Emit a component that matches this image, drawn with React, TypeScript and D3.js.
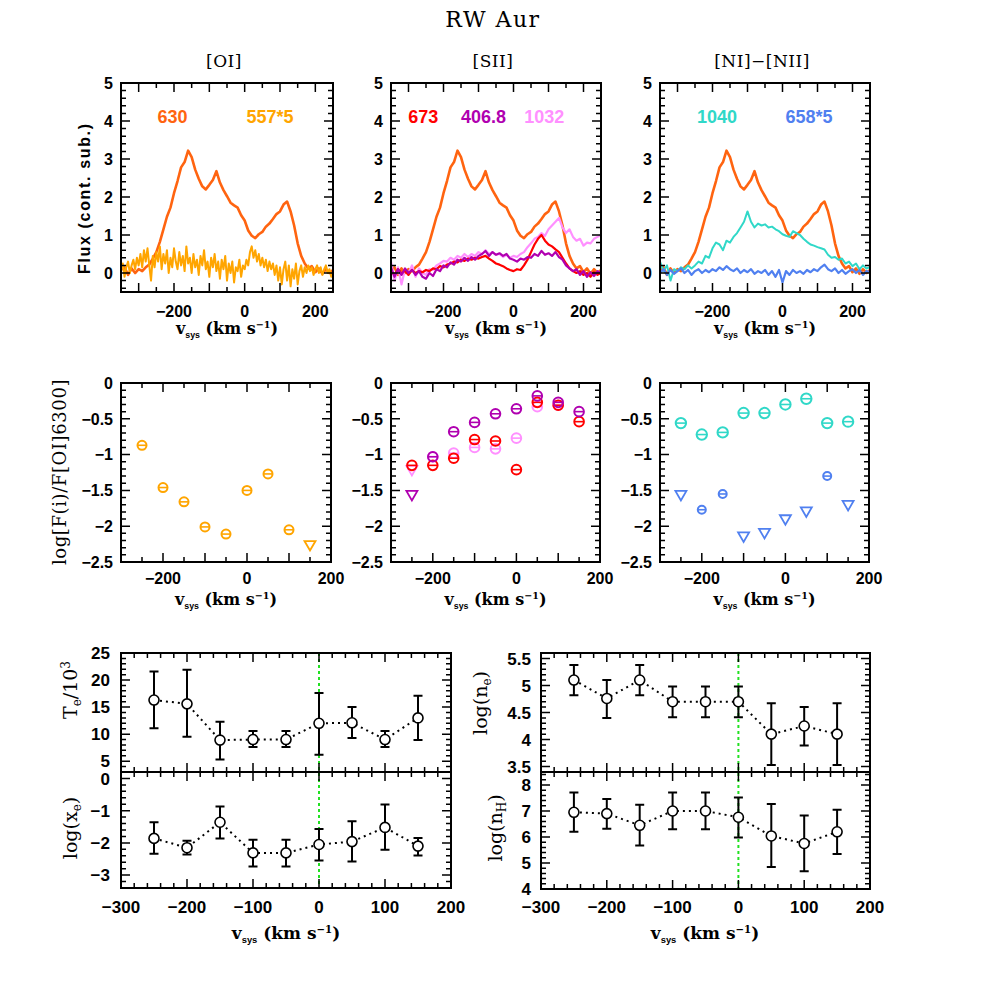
import * as d3 from 'd3'
import type { ReactElement } from 'react'

// ---- line profiles (continuum subtracted), -350..250 km/s
const specVel = d3.range(-350, 251, 10)
const specVelFine = d3.range(-350, 251, 5)

const flux630 = [
  0.08, 0.15, -0.05, 0.12, 0.0, 0.1, 0.05, 0.15, 0.22, 0.38,
  0.55, 0.82, 1.15, 1.48, 1.72, 2.1, 2.42, 2.78, 2.92, 3.22,
  3.05, 2.72, 2.48, 2.28, 2.2, 2.32, 2.45, 2.68, 2.38, 2.18,
  2.02, 1.85, 1.78, 1.72, 1.52, 1.38, 1.12, 0.98, 0.92, 1.02,
  1.08, 1.22, 1.3, 1.42, 1.55, 1.62, 1.8, 1.88, 1.62, 1.25,
  0.78, 0.45, 0.25, 0.12, 0.18, 0.02, 0.12, -0.02, 0.1, 0.0,
  0.08,
]

const flux557x5 = [
  0.1, 0.25, -0.1, 0.15, 0.3, 0.0, 0.2, 0.35, 0.1, 0.4,
  0.2, 0.5, 0.15, 0.6, 0.3, 0.65, 0.2, -0.2, 0.45, 0.15,
  0.55, 0.3, 0.7, 0.1, 0.5, 0.25, 0.6, 0.0, 0.4, 0.15,
  0.65, 0.3, 0.1, 0.55, 0.2, 0.45, 0.05, 0.7, 0.25, 0.4,
  0.0, 0.5, 0.15, 0.35, -0.05, 0.45, 0.2, 0.6, 0.1, 0.3,
  -0.1, 0.4, 0.15, 0.5, 0.05, 0.3, -0.15, 0.35, 0.1, 0.45,
  -0.2, 0.25, 0.0, 0.3, -0.25, 0.15, 0.05, 0.35, -0.1, 0.2,
  0.1, 0.35, 0.2, 0.55, 0.7, 0.4, 0.6, 0.3, 0.5, 0.2,
  0.4, 0.15, 0.35, 0.05, 0.3, 0.1, 0.25, -0.05, 0.2, -0.2,
  0.15, -0.3, 0.1, 0.3, -0.2, 0.2, -0.35, 0.1, -0.15, 0.25,
  -0.3, 0.05, 0.2, -0.1, 0.15, 0.0, 0.2, 0.05, 0.15, -0.05,
  0.1, 0.2, 0.0, 0.15, -0.05, 0.1, 0.2, 0.0, 0.1, -0.1,
  0.05,
]

const flux673 = [
  0.05, -0.05, 0.1, 0.0, 0.05, -0.05, 0.08, 0.0, 0.05, 0.02,
  0.08, 0.05, 0.12, 0.1, 0.18, 0.15, 0.22, 0.25, 0.3, 0.28,
  0.35, 0.32, 0.38, 0.35, 0.4, 0.38, 0.42, 0.45, 0.38, 0.32,
  0.25, 0.22, 0.18, 0.12, 0.08, 0.05, 0.1, 0.08, 0.2, 0.35,
  0.55, 0.75, 0.9, 1.0, 0.85, 0.75, 0.7, 0.62, 0.55, 0.4,
  0.25, 0.12, 0.05, 0.0, 0.05, -0.05, 0.0, -0.1, 0.02, -0.05,
  0.0,
]

const flux4068 = [
  0.15, -0.1, 0.1, -0.05, 0.12, 0.0, 0.08, -0.05, 0.05, -0.1,
  -0.15, 0.0, -0.08, 0.1, 0.05, 0.2, 0.15, 0.28, 0.22, 0.35,
  0.3, 0.4, 0.32, 0.42, 0.35, 0.45, 0.5, 0.58, 0.45, 0.55,
  0.48, 0.52, 0.45, 0.5, 0.38, 0.35, 0.3, 0.38, 0.35, 0.42,
  0.4, 0.5, 0.45, 0.58, 0.48, 0.52, 0.45, 0.55, 0.42, 0.35,
  0.2, 0.12, 0.05, 0.1, -0.05, 0.05, -0.1, 0.02, -0.08, 0.05,
  0.0,
]

const flux1032 = [
  0.3, -0.2, 0.15, -0.3, 0.1, 0.0, 0.2, -0.1, 0.12, 0.0,
  -0.05, 0.1, 0.08, 0.2, 0.25, 0.32, 0.3, 0.4, 0.35, 0.45,
  0.4, 0.5, 0.42, 0.5, 0.45, 0.55, 0.5, 0.6, 0.5, 0.55,
  0.48, 0.5, 0.42, 0.48, 0.4, 0.45, 0.42, 0.5, 0.55, 0.68,
  0.78, 0.9, 0.95, 1.05, 0.98, 1.15, 1.25, 1.35, 1.45, 1.2,
  1.05, 1.15, 0.95, 0.85, 0.9, 0.72, 0.8, 0.78, 0.9, 0.95,
  1.0,
]

const flux1040 = [
  0.3, 0.05, 0.2, -0.2, 0.1, 0.05, 0.15, 0.1, 0.2, 0.12,
  0.2, 0.3, 0.25, 0.45, 0.4, 0.65, 0.8, 0.75, 0.6, 0.85,
  0.8, 0.95, 1.05, 1.2, 1.35, 1.62, 1.35, 1.2, 1.3, 1.25,
  1.28, 1.2, 1.22, 1.15, 1.1, 1.02, 0.98, 0.95, 1.1, 1.05,
  1.0, 0.9, 0.82, 0.75, 0.72, 0.68, 0.65, 0.62, 0.48, 0.4,
  0.42, 0.35, 0.38, 0.25, 0.3, 0.18, 0.25, 0.1, 0.2, 0.12,
  0.15,
]

const flux658x5 = [
  0.0, 0.1, -0.05, 0.08, -0.02, 0.05, 0.12, 0.0, 0.08, -0.05,
  0.05, 0.1, 0.0, 0.08, 0.02, 0.1, 0.05, 0.15, 0.08, 0.18,
  0.1, 0.05, 0.12, 0.0, 0.08, 0.02, 0.1, -0.02, 0.05, 0.0,
  0.08, -0.05, 0.05, -0.1, 0.08, -0.25, 0.05, -0.05, 0.08, 0.0,
  0.05, -0.02, 0.08, 0.02, 0.1, 0.05, 0.15, 0.22, 0.1, 0.05,
  0.12, 0.0, 0.08, -0.02, 0.05, 0.1, 0.0, 0.08, -0.05, 0.05,
  0.02,
]

// ---- log line ratios relative to [OI]630 per velocity bin
const binVel = [-250, -200, -150, -100, -50, 0, 50, 100, 150]

const ratio557 = [-0.87, -1.46, -1.66, -2.01, -2.11, -1.5, -1.27, -2.05, -2.27]
const limit557 = [false, false, false, false, false, false, false, false, true]
const ratio673 = [-1.15, -1.15, -1.05, -0.79, -0.81, -1.21, -0.27, -0.31, -0.54]
const limit673 = [false, false, false, false, false, false, false, false, false]
const ratio4068 = [-1.57, -1.03, -0.68, -0.55, -0.43, -0.36, -0.18, -0.27, -0.4]
const limit4068 = [true, false, false, false, false, false, false, false, false]
const ratio1032 = [-1.22, -1.03, -0.98, -0.9, -0.92, -0.77, -0.33, -0.31, null]
const limit1032 = [true, false, false, false, false, false, false, false, false]
const ratio1040 = [-0.56, -0.72, -0.69, -0.42, -0.42, -0.3, -0.22, -0.56, -0.54]
const limit1040 = [false, false, false, false, false, false, false, false, false]
const ratio658 = [-1.57, -1.77, -1.55, -2.15, -2.1, -1.91, -1.8, -1.3, -1.71]
const limit658 = [true, false, false, true, true, true, true, false, true]

// ---- physical conditions per bin
const te = [16.3, 15.6, 8.9, 9.0, 9.0, 12.0, 12.1, 9.0, 13.0]
const teHi = [21.6, 21.9, 12.3, 10.6, 10.6, 17.6, 15.0, 10.6, 17.1]
const teLo = [11.1, 9.5, 5.3, 7.6, 7.6, 6.2, 9.3, 7.6, 8.9]
const logXe = [-1.86, -2.15, -1.36, -2.31, -2.31, -2.05, -1.96, -1.52, -2.1]
const logXeHi = [-1.36, -1.93, -0.87, -1.9, -1.9, -1.57, -1.33, -0.81, -1.85]
const logXeLo = [-2.34, -2.36, -1.86, -2.73, -2.73, -2.55, -2.58, -2.21, -2.39]
const logNe = [5.1, 4.76, 5.1, 4.7, 4.7, 4.7, 4.1, 4.25, 4.1]
const logNeHi = [5.38, 5.1, 5.38, 4.98, 4.98, 4.98, 4.67, 4.6, 4.67]
const logNeLo = [4.82, 4.4, 4.82, 4.41, 4.41, 4.41, 3.53, 3.89, 3.53]
const logNh = [6.95, 6.9, 6.45, 7.0, 7.0, 6.76, 6.04, 5.75, 6.2]
const logNhHi = [7.71, 7.46, 7.24, 7.71, 7.71, 7.52, 7.27, 6.83, 7.05]
const logNhLo = [6.2, 6.32, 5.67, 6.3, 6.3, 5.98, 4.85, 4.68, 5.35]

const c630 = '#ff6410'
const c557 = '#ffa500'
const c673 = '#ff0000'
const c4068 = '#b000b0'
const c1032 = '#ff90ff'
const c1040 = '#30d8c8'
const c658 = '#5080f0'

const tickFont = "'Liberation Sans', Arial, sans-serif"
const labelFont = "'DejaVu Serif', 'Liberation Serif', serif"

type Scale = d3.ScaleLinear<number, number>

function stepTicks(domain: number[], step: number): number[] {
  const lo = Math.min(domain[0], domain[1])
  const hi = Math.max(domain[0], domain[1])
  const out: number[] = []
  for (let k = Math.ceil(lo / step - 1e-9); k * step <= hi + 1e-9; k++) out.push(+(k * step).toFixed(6))
  return out
}

const onStep = (v: number, step: number) => Math.abs(v / step - Math.round(v / step)) < 1e-6
const fmtTick = (v: number) => String(+v.toFixed(3)).replace('-', '\u2212')

type FrameProps = { xs: Scale; ys: Scale; xMinor: number; xMajor: number; yMinor: number; yMajor: number }

function Frame({ xs, ys, xMinor, xMajor, yMinor, yMajor }: FrameProps): ReactElement {
  const [left, right] = xs.range()
  const [bottom, top] = ys.range()
  let d = ''
  stepTicks(xs.domain(), xMinor).forEach((v) => {
    const px = xs(v)
    if (Math.abs(px - left) < 1 || Math.abs(px - right) < 1) return
    const len = onStep(v, xMajor) ? 9 : 5
    d += `M${px},${bottom}v${-len}M${px},${top}v${len}`
  })
  stepTicks(ys.domain(), yMinor).forEach((v) => {
    const py = ys(v)
    if (Math.abs(py - top) < 1 || Math.abs(py - bottom) < 1) return
    const len = onStep(v, yMajor) ? 9 : 5
    d += `M${left},${py}h${len}M${right},${py}h${-len}`
  })
  return (
    <g>
      <path d={d} stroke="#000" strokeWidth={1.5} fill="none" />
      <rect x={left} y={top} width={right - left} height={bottom - top} fill="none" stroke="#000" strokeWidth={2} />
    </g>
  )
}

function XTicks({ xs, values, y, size = 16 }: { xs: Scale; values: number[]; y: number; size?: number }): ReactElement {
  return (
    <g fontFamily={tickFont} fontWeight="bold" fontSize={size} textAnchor="middle">
      {values.map((v) => (
        <text key={v} x={xs(v)} y={y}>
          {fmtTick(v)}
        </text>
      ))}
    </g>
  )
}

function YTicks({ ys, values, x, size = 16 }: { ys: Scale; values: number[]; x: number; size?: number }): ReactElement {
  return (
    <g fontFamily={tickFont} fontWeight="bold" fontSize={size} textAnchor="end">
      {values.map((v) => (
        <text key={v} x={x} y={ys(v)} dy="0.36em">
          {fmtTick(v)}
        </text>
      ))}
    </g>
  )
}

function VsysLabel({ x, y, size }: { x: number; y: number; size: number }): ReactElement {
  return (
    <text x={x} y={y} textAnchor="middle" fontFamily={labelFont} fontWeight="bold" fontSize={size}>
      v
      <tspan fontFamily={tickFont} fontSize={size * 0.55} dy={4}>
        sys
      </tspan>
      <tspan dy={-4}>{' (km  s'}</tspan>
      <tspan fontSize={size * 0.6} dy={-6}>
        {'\u22121'}
      </tspan>
      <tspan dy={6}>)</tspan>
    </text>
  )
}

function Spectrum({ xs, ys, vel, flux, color, clip, width }: { xs: Scale; ys: Scale; vel: number[]; flux: number[]; color: string; clip: string; width: number }): ReactElement {
  const line = d3
    .line<number>()
    .x((_, i) => xs(vel[i]))
    .y((d) => ys(d))
  return <path d={line(flux) ?? ''} fill="none" stroke={color} strokeWidth={width} strokeLinejoin="round" clipPath={`url(#${clip})`} />
}

function RatioMarks({ xs, ys, values, limits, color, r }: { xs: Scale; ys: Scale; values: (number | null)[]; limits: boolean[]; color: string; r: number }): ReactElement {
  return (
    <g fill="none" stroke={color}>
      {values.map((v, i) => {
        if (v === null) return null
        const cx = xs(binVel[i])
        const cy = ys(v)
        if (limits[i]) {
          return <path key={i} d={`M${cx - 5.5},${cy - 4.5}H${cx + 5.5}L${cx},${cy + 5}Z`} strokeWidth={1.8} />
        }
        return (
          <g key={i}>
            <circle cx={cx} cy={cy} r={r} strokeWidth={2} />
            <line x1={cx - r} x2={cx + r} y1={cy} y2={cy} strokeWidth={1.6} />
          </g>
        )
      })}
    </g>
  )
}

function PhysSeries({ xs, ys, vals, lo, hi }: { xs: Scale; ys: Scale; vals: number[]; lo: number[]; hi: number[] }): ReactElement {
  const line = d3
    .line<number>()
    .x((_, i) => xs(binVel[i]))
    .y((d) => ys(d))
  return (
    <g>
      <path d={line(vals) ?? ''} fill="none" stroke="#000" strokeWidth={2} strokeDasharray="2 4" />
      {vals.map((v, i) => {
        const cx = xs(binVel[i])
        const yl = ys(lo[i])
        const yh = ys(hi[i])
        return (
          <g key={i}>
            <path d={`M${cx},${yl}V${yh}M${cx - 4.5},${yl}h9M${cx - 4.5},${yh}h9`} stroke="#000" strokeWidth={2} fill="none" />
            <circle cx={cx} cy={ys(v)} r={5} fill="#fff" stroke="#000" strokeWidth={1.6} />
          </g>
        )
      })}
    </g>
  )
}

// ---- layout
const topY = [83, 292]
const topX = [
  [121, 333],
  [391, 601],
  [660, 870],
]
const midY = [383, 562]
const midX = [
  [121, 331],
  [391, 600],
  [660, 869],
]
const botX = [
  [121, 451],
  [541, 870],
]
const botUpY = [653, 772]
const botLoY = [772, 888]

type SpecLine = { vel: number[]; flux: number[]; color: string; width: number }
type Legend = { text: string; v: number; color: string }

const topPanels: { title: string; lines: SpecLine[]; legend: Legend[] }[] = [
  {
    title: '[OI]',
    lines: [
      { vel: specVel, flux: flux630, color: c630, width: 2.6 },
      { vel: specVelFine, flux: flux557x5, color: c557, width: 2 },
    ],
    legend: [
      { text: '630', v: -204, color: c630 },
      { text: '557*5', v: 72, color: c557 },
    ],
  },
  {
    title: '[SII]',
    lines: [
      { vel: specVel, flux: flux630, color: c630, width: 2.6 },
      { vel: specVel, flux: flux1032, color: c1032, width: 2.2 },
      { vel: specVel, flux: flux673, color: c673, width: 2.2 },
      { vel: specVel, flux: flux4068, color: c4068, width: 2.2 },
    ],
    legend: [
      { text: '673', v: -258, color: c673 },
      { text: '406.8', v: -86, color: c4068 },
      { text: '1032', v: 88, color: c1032 },
    ],
  },
  {
    title: '[NI]\u2212[NII]',
    lines: [
      { vel: specVel, flux: flux630, color: c630, width: 2.6 },
      { vel: specVel, flux: flux1040, color: c1040, width: 2 },
      { vel: specVel, flux: flux658x5, color: c658, width: 2.2 },
    ],
    legend: [
      { text: '1040', v: -187, color: c1040 },
      { text: '658*5', v: 76, color: c658 },
    ],
  },
]

type RatioSet = { values: (number | null)[]; limits: boolean[]; color: string; r: number }
const midPanels: RatioSet[][] = [
  [{ values: ratio557, limits: limit557, color: c557, r: 4.5 }],
  [
    { values: ratio1032, limits: limit1032, color: c1032, r: 4.8 },
    { values: ratio673, limits: limit673, color: c673, r: 4.8 },
    { values: ratio4068, limits: limit4068, color: c4068, r: 4.8 },
  ],
  [
    { values: ratio1040, limits: limit1040, color: c1040, r: 5.2 },
    { values: ratio658, limits: limit658, color: c658, r: 4 },
  ],
]

export default function App(): ReactElement {
  const topYs = d3.scaleLinear().domain([-0.5, 5]).range([topY[1], topY[0]])
  const midYs = d3.scaleLinear().domain([-2.5, 0]).range([midY[1], midY[0]])

  const teYs = d3.scaleLinear().domain([3, 25]).range([botUpY[1], botUpY[0]])
  const xeYs = d3.scaleLinear().domain([-3.4, 0.2]).range([botLoY[1], botLoY[0]])
  const neYs = d3.scaleLinear().domain([3.4, 5.6]).range([botUpY[1], botUpY[0]])
  const nhYs = d3.scaleLinear().domain([4, 8.5]).range([botLoY[1] + 1, botLoY[0]])
  const botXs = botX.map(([a, b]) => d3.scaleLinear().domain([-300, 200]).range([a, b]))

  return (
    <div style={{ position: 'absolute', left: 0, top: 0, width: 981, height: 981, background: '#fff' }}>
      <svg width={981} height={981} style={{ display: 'block' }}>
        <rect width={981} height={981} fill="#fff" />
        <text x={493} y={27} textAnchor="middle" fontFamily={labelFont} fontSize={22} letterSpacing={1.5}>
          RW Aur
        </text>

        {/* top row: profiles */}
        {topPanels.map((p, k) => {
          const xs = d3.scaleLinear().domain([-350, 250]).range(topX[k])
          const clip = `clipTop${k}`
          const cx = (topX[k][0] + topX[k][1]) / 2
          return (
            <g key={k}>
              <defs>
                <clipPath id={clip}>
                  <rect x={topX[k][0]} y={topY[0]} width={topX[k][1] - topX[k][0]} height={topY[1] - topY[0]} />
                </clipPath>
              </defs>
              <text x={cx - 3} y={67} textAnchor="middle" fontFamily={labelFont} fontSize={17} letterSpacing={0.5}>
                {p.title}
              </text>
              {p.lines.map((l, i) => (
                <Spectrum key={i} xs={xs} ys={topYs} vel={l.vel} flux={l.flux} color={l.color} clip={clip} width={l.width} />
              ))}
              {p.legend.map((l) => (
                <text key={l.text} x={xs(l.v)} y={123} textAnchor="middle" fontFamily={tickFont} fontWeight="bold" fontSize={18} fill={l.color}>
                  {l.text}
                </text>
              ))}
              <Frame xs={xs} ys={topYs} xMinor={50} xMajor={100} yMinor={0.2} yMajor={1} />
              <XTicks xs={xs} values={[-200, 0, 200]} y={317} />
              <YTicks ys={topYs} values={[0, 1, 2, 3, 4, 5]} x={topX[k][0] - 8} />
              <VsysLabel x={cx} y={334} size={16} />
            </g>
          )
        })}
        <text transform="translate(90,199) rotate(-90)" textAnchor="middle" fontFamily={tickFont} fontWeight="bold" fontSize={16} textLength={150} lengthAdjust="spacing">
          Flux (cont. sub.)
        </text>

        {/* middle row: line ratios */}
        {midPanels.map((sets, k) => {
          const xs = d3.scaleLinear().domain([-300, 200]).range(midX[k])
          const cx = (midX[k][0] + midX[k][1]) / 2
          return (
            <g key={k}>
              {sets.map((s, i) => (
                <RatioMarks key={i} xs={xs} ys={midYs} values={s.values} limits={s.limits} color={s.color} r={s.r} />
              ))}
              <Frame xs={xs} ys={midYs} xMinor={50} xMajor={100} yMinor={0.1} yMajor={0.5} />
              <XTicks xs={xs} values={[-200, 0, 200]} y={584} />
              <YTicks ys={midYs} values={[0, -0.5, -1, -1.5, -2, -2.5]} x={midX[k][0] - 8} />
              <VsysLabel x={cx} y={605} size={16} />
            </g>
          )
        })}
        <text transform="translate(66,472) rotate(-90)" textAnchor="middle" fontFamily={labelFont} fontSize={18} letterSpacing={0.6}>
          log[F(i)/F[OI]6300]
        </text>

        {/* bottom row: physical conditions */}
        {botXs.map((xs, k) => (
          <line key={k} x1={xs(0)} x2={xs(0)} y1={botUpY[0]} y2={botLoY[1]} stroke="#22e022" strokeWidth={2} strokeDasharray="3 3" />
        ))}

        <Frame xs={botXs[0]} ys={teYs} xMinor={20} xMajor={100} yMinor={1} yMajor={5} />
        <Frame xs={botXs[0]} ys={xeYs} xMinor={20} xMajor={100} yMinor={0.2} yMajor={1} />
        <PhysSeries xs={botXs[0]} ys={teYs} vals={te} lo={teLo} hi={teHi} />
        <PhysSeries xs={botXs[0]} ys={xeYs} vals={logXe} lo={logXeLo} hi={logXeHi} />
        <YTicks ys={teYs} values={[5, 10, 15, 20, 25]} x={110} size={17} />
        <YTicks ys={xeYs} values={[0, -1, -2, -3]} x={110} size={17} />
        <XTicks xs={botXs[0]} values={[-300, -200, -100, 0, 100, 200]} y={913} size={17} />
        <VsysLabel x={286} y={939} size={17} />

        <Frame xs={botXs[1]} ys={neYs} xMinor={20} xMajor={100} yMinor={0.1} yMajor={0.5} />
        <Frame xs={botXs[1]} ys={nhYs} xMinor={20} xMajor={100} yMinor={0.2} yMajor={1} />
        <PhysSeries xs={botXs[1]} ys={neYs} vals={logNe} lo={logNeLo} hi={logNeHi} />
        <PhysSeries xs={botXs[1]} ys={nhYs} vals={logNh} lo={logNhLo} hi={logNhHi} />
        <YTicks ys={neYs} values={[3.5, 4, 4.5, 5, 5.5]} x={531} size={17} />
        <YTicks ys={nhYs} values={[4, 5, 6, 7, 8]} x={531} size={17} />
        <XTicks xs={botXs[1]} values={[-300, -200, -100, 0, 100, 200]} y={913} size={17} />
        <VsysLabel x={705} y={939} size={17} />

        <g fontFamily={labelFont} fontSize={19} textAnchor="middle">
          <text transform="translate(77,690) rotate(-90)">
            T<tspan fontSize={12} dy={4}>e</tspan>
            <tspan dy={-4}>/10</tspan>
            <tspan fontSize={12} dy={-7}>3</tspan>
          </text>
          <text transform="translate(77,828) rotate(-90)">
            log(x<tspan fontSize={12} dy={4}>e</tspan>
            <tspan dy={-4}>)</tspan>
          </text>
          <text transform="translate(487,703) rotate(-90)">
            log(n<tspan fontSize={12} dy={4}>e</tspan>
            <tspan dy={-4}>)</tspan>
          </text>
          <text transform="translate(502,828) rotate(-90)">
            log(n<tspan fontSize={12} dy={4}>H</tspan>
            <tspan dy={-4}>)</tspan>
          </text>
        </g>
      </svg>
    </div>
  )
}
